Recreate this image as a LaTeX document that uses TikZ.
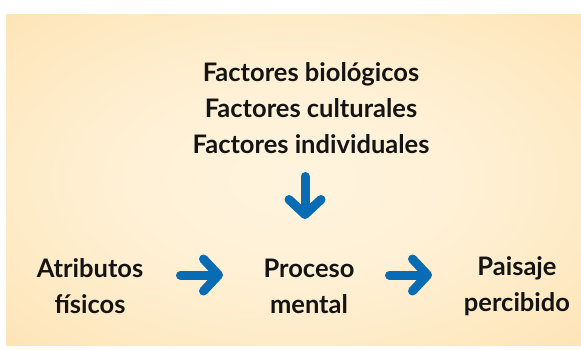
\documentclass[tikz,border=0pt]{standalone}
\usepackage{fontspec}
\setmainfont{Lato}
\usetikzlibrary{arrows.meta}
\definecolor{arrowblue}{RGB}{8,108,180}
\definecolor{txt}{RGB}{20,20,20}
\pgfdeclareradialshading{warm}{\pgfpoint{0bp}{0bp}}{%
  rgb(0bp)=(1,0.955,0.87);
  rgb(14bp)=(1,0.945,0.84);
  rgb(32bp)=(0.995,0.905,0.74);
  rgb(50bp)=(0.992,0.86,0.6);
  rgb(100bp)=(0.992,0.86,0.6)}
\begin{document}
\begin{tikzpicture}[x=1pt,y=1pt,
  lbl/.style={font=\fontsize{25.5}{36}\selectfont\bfseries, text=txt, align=center, inner sep=0pt},
  barrow/.style={draw=arrowblue, line width=9pt, line cap=round, line join=round,
    -{Straight Barb[length=15pt, width=32pt, round]}}]
\useasboundingbox (0,0) rectangle (581,349);
\fill[white] (0,0) rectangle (581,349);
\shade[shading=warm] (6,4) rectangle (581,334);
\node[lbl] (fac) at (311,241) {Factores biológicos\\Factores culturales\\Factores individuales};
\node[lbl] (atr) at (90,63) {Atributos\\físicos};
\node[lbl] (pro) at (309,63) {Proceso\\mental};
\node[lbl] (pai) at (517,63) {Paisaje\\percibido};
\coordinate (d1) at (305,172.5);
\coordinate (d2) at (305,130);
\coordinate (r1) at (180.5,74);
\coordinate (r2) at (223,74);
\coordinate (s1) at (389.5,74);
\coordinate (s2) at (432,74);
\draw[barrow] (d1) -- (d2);
\draw[barrow] (r1) -- (r2);
\draw[barrow] (s1) -- (s2);
\end{tikzpicture}
\end{document}
